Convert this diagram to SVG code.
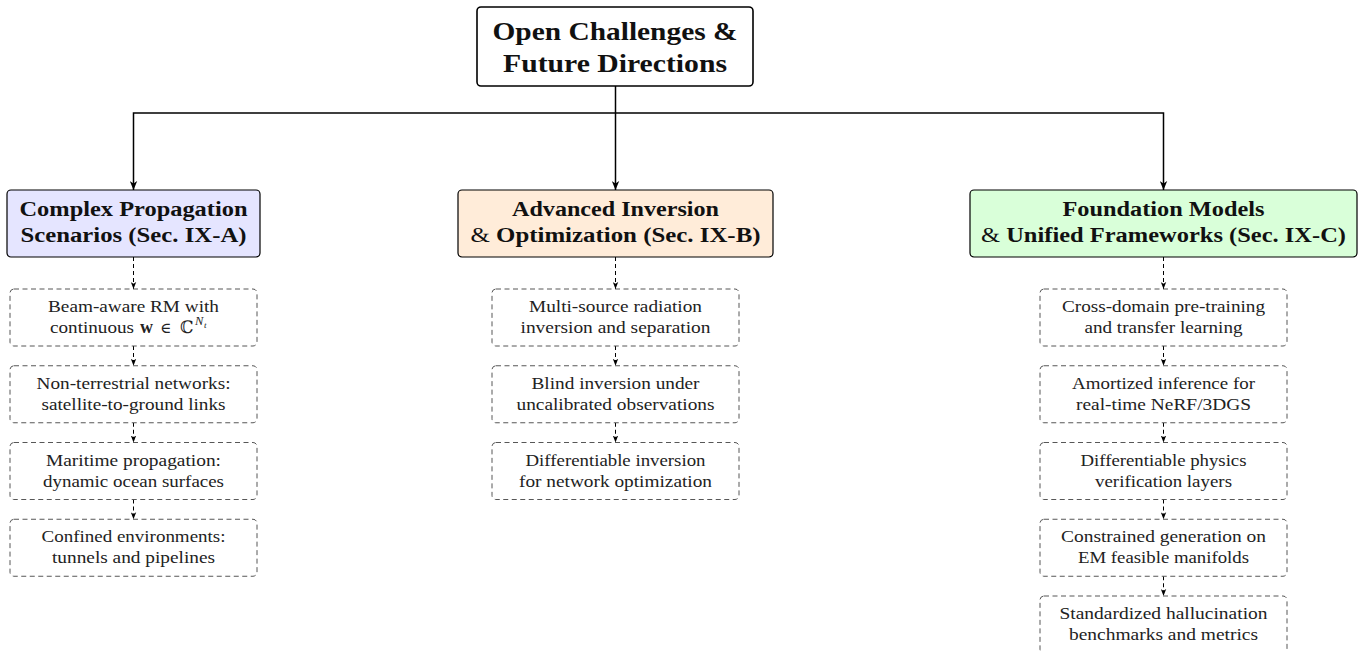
<svg xmlns="http://www.w3.org/2000/svg" width="1362" height="651" viewBox="0 0 1362 651">
<defs>
<style>
.root rect{fill:#ffffff;stroke:#000;stroke-width:1.6}
.hdr rect{stroke:#000;stroke-width:1.2}
.leaf rect{fill:#ffffff;stroke:#444;stroke-width:0.9;stroke-dasharray:5 3.5}
text{font-family:"Liberation Serif","Times New Roman",serif;fill:#111;text-anchor:middle}
.t0{font-weight:bold;font-size:25px}
.t1{font-weight:bold;font-size:20.5px}
.t2{font-size:17.5px;fill:#222}
.n{font-weight:normal}
.conn{fill:none;stroke:#000;stroke-width:1.5}
.dconn{fill:none;stroke:#000;stroke-width:1;stroke-dasharray:4 3}
</style>
<marker id="ahs" markerUnits="userSpaceOnUse" markerWidth="9" markerHeight="8" viewBox="0 0 9 8" refX="9" refY="4" orient="auto"><path d="M0,0.3 L9,4 L0,7.7 L2.4,4 z" fill="#000"/></marker>
<marker id="ahd" markerUnits="userSpaceOnUse" markerWidth="7" markerHeight="6" viewBox="0 0 7 6" refX="7" refY="3" orient="auto"><path d="M0,0.3 L7,3 L0,5.7 L1.8,3 z" fill="#000"/></marker>
</defs>
<rect width="1362" height="651" fill="#ffffff"/>

<g id="connectors">
<path class="conn" d="M615.5,86 V190" marker-end="url(#ahs)"/>
<path class="conn" d="M615.5,113 H133.5 V190" marker-end="url(#ahs)"/>
<path class="conn" d="M615.5,113 H1163.5 V190" marker-end="url(#ahs)"/>
<path class="dconn" d="M133.5,257 V289" marker-end="url(#ahd)"/>
<path class="dconn" d="M133.5,346 V365.75" marker-end="url(#ahd)"/>
<path class="dconn" d="M133.5,422.75 V442.5" marker-end="url(#ahd)"/>
<path class="dconn" d="M133.5,499.5 V519.25" marker-end="url(#ahd)"/>
<path class="dconn" d="M615.5,257 V289" marker-end="url(#ahd)"/>
<path class="dconn" d="M615.5,346 V365.75" marker-end="url(#ahd)"/>
<path class="dconn" d="M615.5,422.75 V442.5" marker-end="url(#ahd)"/>
<path class="dconn" d="M1163.5,257 V289" marker-end="url(#ahd)"/>
<path class="dconn" d="M1163.5,346 V365.75" marker-end="url(#ahd)"/>
<path class="dconn" d="M1163.5,422.75 V442.5" marker-end="url(#ahd)"/>
<path class="dconn" d="M1163.5,499.5 V519.25" marker-end="url(#ahd)"/>
<path class="dconn" d="M1163.5,576.25 V596" marker-end="url(#ahd)"/>
</g>

<g id="root" class="root">
<rect x="477" y="7" width="276" height="79" rx="4"/>
<text class="t0" x="615" y="40" textLength="245" lengthAdjust="spacingAndGlyphs">Open Challenges &amp;</text>
<text class="t0" x="615" y="72" textLength="224" lengthAdjust="spacingAndGlyphs">Future Directions</text>
</g>

<g id="hdr-a" class="hdr">
<rect x="7" y="190" width="253" height="67" rx="4" fill="#e5e5ff"/>
<text class="t1" x="133.5" y="216" textLength="228" lengthAdjust="spacingAndGlyphs">Complex Propagation</text>
<text class="t1" x="133.5" y="241.5" textLength="226" lengthAdjust="spacingAndGlyphs">Scenarios (Sec. IX-A)</text>
</g>
<g id="hdr-b" class="hdr">
<rect x="458" y="190" width="315" height="67" rx="4" fill="#ffecd9"/>
<text class="t1" x="615.5" y="216" textLength="207" lengthAdjust="spacingAndGlyphs">Advanced Inversion</text>
<text class="t1" x="615.5" y="241.5" textLength="290" lengthAdjust="spacingAndGlyphs"><tspan class="n">&amp;</tspan> Optimization (Sec. IX-B)</text>
</g>
<g id="hdr-c" class="hdr">
<rect x="970" y="190" width="387" height="67" rx="4" fill="#d9ffd9"/>
<text class="t1" x="1163.5" y="216" textLength="202" lengthAdjust="spacingAndGlyphs">Foundation Models</text>
<text class="t1" x="1163.5" y="241.5" textLength="365" lengthAdjust="spacingAndGlyphs"><tspan class="n">&amp;</tspan> Unified Frameworks (Sec. IX-C)</text>
</g>

<g id="a1" class="leaf">
<rect x="10" y="289" width="247" height="57" rx="4"/>
<text class="t2" x="133.5" y="312" textLength="171" lengthAdjust="spacingAndGlyphs">Beam-aware RM with</text>
<text class="t2" y="333" style="text-anchor:start"><tspan x="50" textLength="84" lengthAdjust="spacingAndGlyphs">continuous</tspan><tspan x="140" font-weight="bold" font-size="18">w</tspan><tspan x="160" font-family="DejaVu Serif, serif" font-size="15">∈</tspan><tspan x="180" font-family="DejaVu Serif, serif" font-size="17">ℂ</tspan><tspan x="195" y="325" font-style="italic" font-size="12.5">N</tspan><tspan x="204" y="328" font-style="italic" font-size="9">t</tspan></text>
</g>
<g id="a2" class="leaf">
<rect x="10" y="365.75" width="247" height="57" rx="4"/>
<text class="t2" x="133.5" y="389" textLength="194" lengthAdjust="spacingAndGlyphs">Non-terrestrial networks:</text>
<text class="t2" x="133.5" y="410" textLength="184" lengthAdjust="spacingAndGlyphs">satellite-to-ground links</text>
</g>
<g id="a3" class="leaf">
<rect x="10" y="442.5" width="247" height="57" rx="4"/>
<text class="t2" x="133.5" y="465.5" textLength="175" lengthAdjust="spacingAndGlyphs">Maritime propagation:</text>
<text class="t2" x="133.5" y="486.5" textLength="181" lengthAdjust="spacingAndGlyphs">dynamic ocean surfaces</text>
</g>
<g id="a4" class="leaf">
<rect x="10" y="519.25" width="247" height="57" rx="4"/>
<text class="t2" x="133.5" y="542" textLength="184" lengthAdjust="spacingAndGlyphs">Confined environments:</text>
<text class="t2" x="133.5" y="563" textLength="163" lengthAdjust="spacingAndGlyphs">tunnels and pipelines</text>
</g>

<g id="b1" class="leaf">
<rect x="492" y="289" width="247" height="57" rx="4"/>
<text class="t2" x="615.5" y="312" textLength="173" lengthAdjust="spacingAndGlyphs">Multi-source radiation</text>
<text class="t2" x="615.5" y="333" textLength="190" lengthAdjust="spacingAndGlyphs">inversion and separation</text>
</g>
<g id="b2" class="leaf">
<rect x="492" y="365.75" width="247" height="57" rx="4"/>
<text class="t2" x="615.5" y="389" textLength="168" lengthAdjust="spacingAndGlyphs">Blind inversion under</text>
<text class="t2" x="615.5" y="410" textLength="198" lengthAdjust="spacingAndGlyphs">uncalibrated observations</text>
</g>
<g id="b3" class="leaf">
<rect x="492" y="442.5" width="247" height="57" rx="4"/>
<text class="t2" x="615.5" y="465.5" textLength="180" lengthAdjust="spacingAndGlyphs">Differentiable inversion</text>
<text class="t2" x="615.5" y="486.5" textLength="193" lengthAdjust="spacingAndGlyphs">for network optimization</text>
</g>

<g id="c1" class="leaf">
<rect x="1040" y="289" width="247" height="57" rx="4"/>
<text class="t2" x="1163.5" y="312" textLength="203" lengthAdjust="spacingAndGlyphs">Cross-domain pre-training</text>
<text class="t2" x="1163.5" y="333" textLength="158" lengthAdjust="spacingAndGlyphs">and transfer learning</text>
</g>
<g id="c2" class="leaf">
<rect x="1040" y="365.75" width="247" height="57" rx="4"/>
<text class="t2" x="1163.5" y="389" textLength="183" lengthAdjust="spacingAndGlyphs">Amortized inference for</text>
<text class="t2" x="1163.5" y="410" textLength="175" lengthAdjust="spacingAndGlyphs">real-time NeRF/3DGS</text>
</g>
<g id="c3" class="leaf">
<rect x="1040" y="442.5" width="247" height="57" rx="4"/>
<text class="t2" x="1163.5" y="465.5" textLength="166" lengthAdjust="spacingAndGlyphs">Differentiable physics</text>
<text class="t2" x="1163.5" y="486.5" textLength="137" lengthAdjust="spacingAndGlyphs">verification layers</text>
</g>
<g id="c4" class="leaf">
<rect x="1040" y="519.25" width="247" height="57" rx="4"/>
<text class="t2" x="1163.5" y="542" textLength="205" lengthAdjust="spacingAndGlyphs">Constrained generation on</text>
<text class="t2" x="1163.5" y="563" textLength="171" lengthAdjust="spacingAndGlyphs">EM feasible manifolds</text>
</g>
<g id="c5" class="leaf">
<rect x="1040" y="596" width="247" height="57" rx="4"/>
<text class="t2" x="1163.5" y="619" textLength="208" lengthAdjust="spacingAndGlyphs">Standardized hallucination</text>
<text class="t2" x="1163.5" y="640" textLength="189" lengthAdjust="spacingAndGlyphs">benchmarks and metrics</text>
</g>
</svg>
